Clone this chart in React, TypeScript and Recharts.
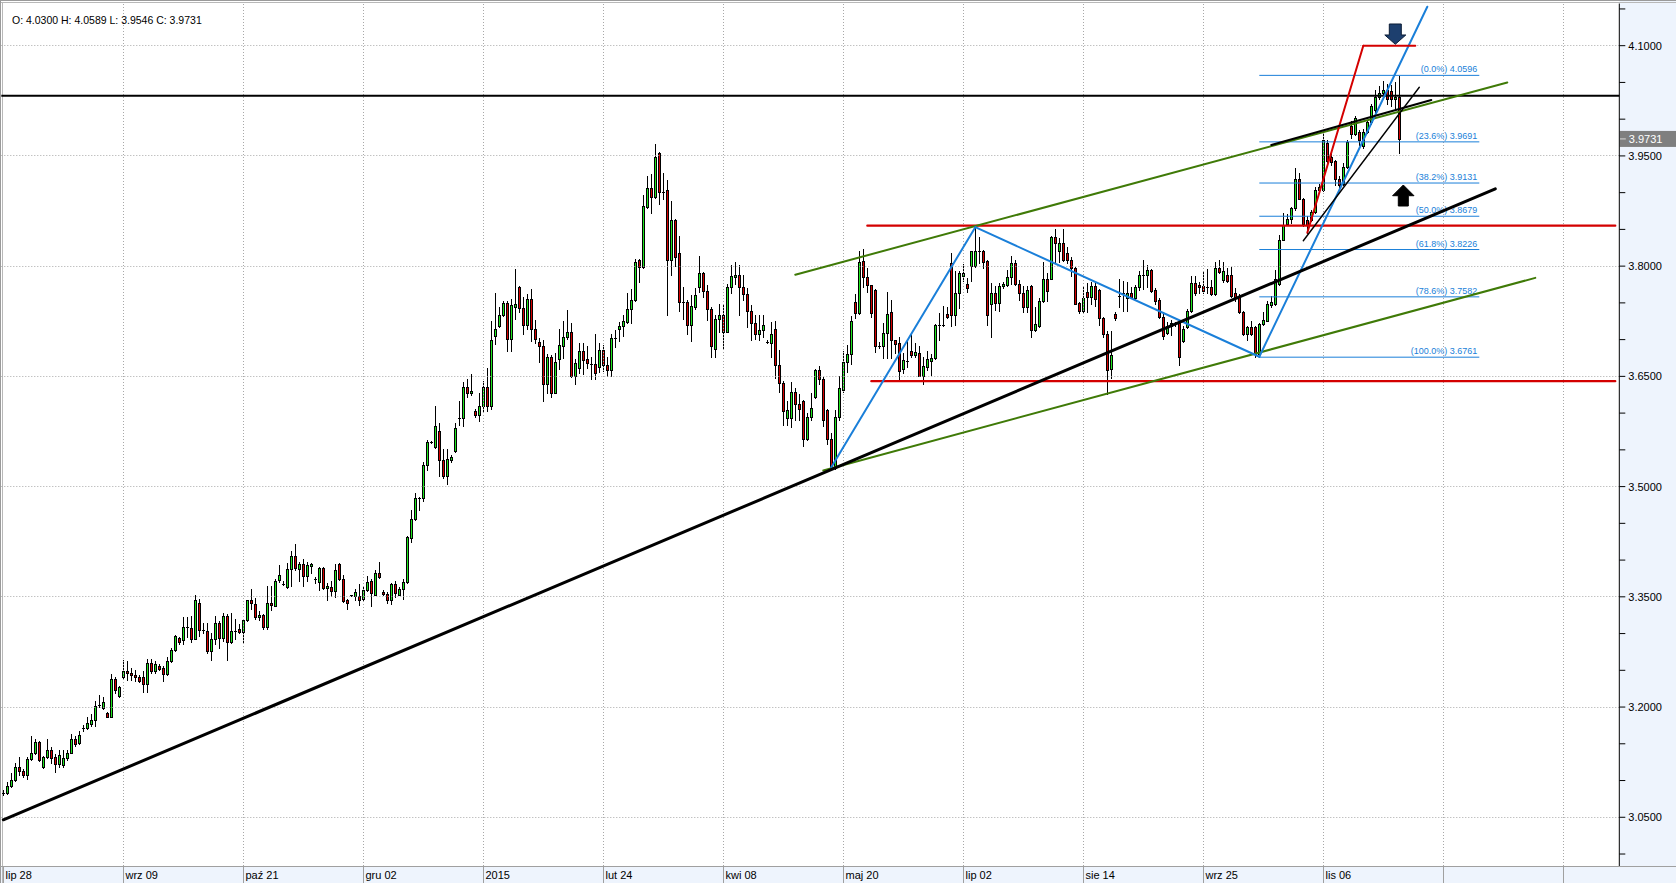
import React from 'react';
import { ComposedChart, Bar, XAxis, YAxis, ReferenceLine, ReferenceDot } from 'recharts';

// ---------- DATA (daily candles, slot 0 = lip 28) ----------
const openPrices = [
  3.083,3.083,3.092,3.101,3.119,3.113,3.108,3.129,3.137,3.152,
  3.118,3.132,3.142,3.132,3.123,3.121,3.130,3.138,3.156,3.151,
  3.172,3.171,3.177,3.182,3.201,3.199,3.192,3.187,3.238,3.215,
  3.241,3.249,3.246,3.244,3.241,3.241,3.231,3.260,3.249,3.256,
  3.253,3.245,3.262,3.277,3.294,3.291,3.309,3.308,3.293,3.342,
  3.305,3.304,3.276,3.293,3.314,3.294,3.324,3.289,3.303,3.306,
  3.302,3.319,3.345,3.340,3.322,3.325,3.309,3.342,3.338,3.373,
  3.368,3.364,3.388,3.406,3.388,3.395,3.379,3.392,3.374,3.370,
  3.389,3.362,3.364,3.358,3.394,3.374,3.345,3.352,3.351,3.351,
  3.347,3.359,3.371,3.353,3.382,3.357,3.354,3.345,3.367,3.353,
  3.361,3.370,3.430,3.456,3.485,3.485,3.530,3.561,3.554,3.575,
  3.536,3.514,3.536,3.549,3.593,3.593,3.635,3.627,3.603,3.597,
  3.610,3.635,3.610,3.705,3.719,3.733,3.750,3.701,3.745,3.772,
  3.743,3.720,3.755,3.714,3.697,3.692,3.639,3.676,3.628,3.674,
  3.692,3.704,3.711,3.651,3.661,3.684,3.673,3.667,3.667,3.663,
  3.686,3.666,3.659,3.702,3.714,3.719,3.724,3.742,3.754,3.809,
  3.799,3.881,3.906,3.894,3.954,3.901,3.903,3.809,3.863,3.818,
  3.751,3.751,3.720,3.745,3.772,3.790,3.766,3.742,3.687,3.728,
  3.734,3.711,3.771,3.785,3.788,3.772,3.762,3.739,3.722,3.707,
  3.713,3.697,3.695,3.714,3.665,3.641,3.594,3.594,3.629,3.612,
  3.617,3.565,3.595,3.622,3.658,3.647,3.604,3.565,3.525,3.595,
  3.632,3.670,3.680,3.751,3.736,3.807,3.785,3.774,3.767,3.691,
  3.691,3.709,3.738,3.699,3.695,3.660,3.671,3.685,3.679,3.682,
  3.651,3.663,3.671,3.675,3.720,3.720,3.735,3.804,3.733,3.763,
  3.787,3.776,3.800,3.800,3.821,3.821,3.807,3.748,3.764,3.750,
  3.773,3.775,3.785,3.804,3.776,3.764,3.744,3.773,3.713,3.718,
  3.753,3.783,3.783,3.839,3.821,3.832,3.818,3.809,3.797,3.750,
  3.739,3.765,3.758,3.773,3.767,3.729,3.707,3.660,3.735,3.760,
  3.763,3.757,3.764,3.757,3.771,3.788,3.788,3.795,3.767,3.754,
  3.731,3.709,3.718,3.723,3.723,3.698,3.717,3.739,3.777,3.775,
  3.773,3.771,3.771,3.762,3.798,3.781,3.788,3.788,3.763,3.760,
  3.738,3.707,3.717,3.717,3.681,3.721,3.726,3.747,3.748,3.776,
  3.836,3.857,3.864,3.879,3.918,3.892,3.863,3.863,3.874,3.904,
  3.904,3.968,3.949,3.943,3.918,3.912,3.935,3.991,3.980,3.982,
  3.963,3.983,3.996,4.012,4.030,4.036,4.040,4.039,4.028,4.0300,
];
const highPrices = [
  3.087,3.098,3.110,3.124,3.132,3.116,3.132,3.160,3.157,3.154,
  3.134,3.157,3.145,3.136,3.141,3.142,3.141,3.163,3.160,3.168,
  3.176,3.187,3.190,3.208,3.216,3.214,3.193,3.245,3.241,3.229,
  3.264,3.262,3.253,3.250,3.244,3.249,3.265,3.265,3.262,3.259,
  3.256,3.268,3.280,3.298,3.296,3.323,3.323,3.324,3.352,3.347,
  3.314,3.314,3.301,3.324,3.317,3.328,3.327,3.328,3.320,3.313,
  3.320,3.346,3.360,3.348,3.331,3.327,3.365,3.365,3.374,3.393,
  3.371,3.396,3.412,3.422,3.397,3.402,3.397,3.396,3.377,3.391,
  3.390,3.369,3.371,3.395,3.396,3.380,3.347,3.353,3.360,3.367,
  3.364,3.379,3.374,3.386,3.398,3.359,3.357,3.369,3.371,3.363,
  3.374,3.433,3.468,3.491,3.486,3.534,3.564,3.562,3.609,3.586,
  3.551,3.551,3.543,3.587,3.617,3.642,3.647,3.653,3.606,3.628,
  3.644,3.661,3.726,3.763,3.745,3.752,3.752,3.755,3.796,3.773,
  3.758,3.762,3.769,3.727,3.702,3.700,3.681,3.679,3.682,3.714,
  3.726,3.740,3.722,3.673,3.696,3.696,3.691,3.676,3.707,3.695,
  3.693,3.677,3.708,3.713,3.724,3.734,3.764,3.769,3.810,3.810,
  3.897,3.922,3.926,3.966,3.955,3.927,3.917,3.888,3.864,3.841,
  3.772,3.754,3.761,3.770,3.814,3.792,3.774,3.745,3.733,3.748,
  3.748,3.776,3.802,3.806,3.802,3.788,3.770,3.747,3.734,3.734,
  3.734,3.699,3.724,3.726,3.686,3.644,3.617,3.642,3.634,3.626,
  3.618,3.600,3.628,3.660,3.664,3.649,3.606,3.573,3.604,3.650,
  3.685,3.693,3.732,3.762,3.821,3.823,3.798,3.774,3.769,3.697,
  3.722,3.765,3.754,3.700,3.703,3.682,3.700,3.709,3.695,3.691,
  3.676,3.685,3.680,3.721,3.736,3.746,3.745,3.818,3.794,3.794,
  3.803,3.784,3.821,3.853,3.840,3.822,3.808,3.777,3.773,3.777,
  3.779,3.795,3.814,3.808,3.781,3.773,3.773,3.774,3.744,3.756,
  3.805,3.791,3.841,3.851,3.838,3.851,3.826,3.812,3.799,3.751,
  3.772,3.777,3.779,3.777,3.769,3.731,3.712,3.712,3.737,3.782,
  3.780,3.779,3.772,3.774,3.793,3.809,3.801,3.796,3.770,3.756,
  3.738,3.724,3.727,3.724,3.727,3.718,3.742,3.787,3.786,3.778,
  3.794,3.796,3.781,3.805,3.808,3.805,3.798,3.799,3.770,3.762,
  3.739,3.718,3.725,3.718,3.722,3.738,3.752,3.759,3.795,3.843,
  3.872,3.871,3.881,3.933,3.927,3.893,3.868,3.877,3.908,3.912,
  3.981,3.971,3.952,3.945,3.922,3.940,3.972,3.997,4.004,3.985,
  3.986,3.999,4.021,4.040,4.045,4.052,4.048,4.046,4.050,4.0589,
];
const lowPrices = [
  3.080,3.082,3.091,3.100,3.107,3.105,3.102,3.128,3.136,3.127,
  3.117,3.131,3.124,3.112,3.118,3.118,3.128,3.137,3.147,3.150,
  3.168,3.170,3.174,3.174,3.200,3.198,3.186,3.186,3.219,3.214,
  3.240,3.237,3.237,3.236,3.234,3.220,3.220,3.246,3.246,3.250,
  3.235,3.244,3.261,3.276,3.286,3.286,3.295,3.288,3.292,3.297,
  3.301,3.274,3.264,3.286,3.280,3.290,3.264,3.287,3.292,3.301,
  3.288,3.317,3.334,3.320,3.319,3.306,3.306,3.332,3.337,3.370,
  3.366,3.362,3.365,3.387,3.371,3.365,3.372,3.383,3.369,3.359,
  3.361,3.345,3.351,3.350,3.373,3.343,3.333,3.351,3.346,3.339,
  3.346,3.358,3.337,3.352,3.376,3.352,3.342,3.340,3.350,3.352,
  3.347,3.369,3.424,3.455,3.468,3.480,3.523,3.560,3.553,3.514,
  3.512,3.503,3.534,3.547,3.584,3.583,3.622,3.625,3.595,3.589,
  3.603,3.603,3.606,3.694,3.717,3.732,3.685,3.685,3.728,3.737,
  3.708,3.714,3.698,3.696,3.670,3.616,3.628,3.622,3.627,3.660,
  3.675,3.701,3.649,3.639,3.655,3.653,3.662,3.647,3.647,3.656,
  3.657,3.651,3.650,3.690,3.698,3.705,3.723,3.723,3.753,3.779,
  3.797,3.879,3.872,3.893,3.885,3.891,3.734,3.788,3.800,3.739,
  3.728,3.707,3.698,3.742,3.765,3.758,3.727,3.677,3.677,3.711,
  3.689,3.710,3.764,3.776,3.734,3.754,3.717,3.699,3.701,3.699,
  3.703,3.695,3.676,3.648,3.629,3.584,3.584,3.581,3.591,3.590,
  3.555,3.564,3.591,3.621,3.640,3.583,3.558,3.524,3.524,3.590,
  3.629,3.656,3.667,3.730,3.735,3.772,3.765,3.731,3.683,3.688,
  3.675,3.675,3.675,3.682,3.645,3.654,3.663,3.676,3.677,3.650,
  3.640,3.658,3.652,3.674,3.700,3.718,3.729,3.718,3.720,3.743,
  3.780,3.765,3.780,3.799,3.804,3.798,3.720,3.703,3.740,3.739,
  3.770,3.773,3.776,3.774,3.754,3.738,3.738,3.703,3.712,3.717,
  3.751,3.753,3.782,3.806,3.806,3.807,3.804,3.787,3.748,3.736,
  3.738,3.737,3.749,3.746,3.720,3.704,3.626,3.648,3.727,3.744,
  3.739,3.739,3.756,3.754,3.767,3.769,3.771,3.765,3.748,3.729,
  3.701,3.707,3.706,3.719,3.665,3.697,3.716,3.738,3.761,3.763,
  3.763,3.763,3.761,3.761,3.791,3.778,3.778,3.758,3.752,3.736,
  3.706,3.700,3.706,3.676,3.677,3.720,3.725,3.744,3.747,3.775,
  3.835,3.856,3.859,3.877,3.891,3.854,3.845,3.861,3.872,3.901,
  3.902,3.942,3.937,3.910,3.905,3.910,3.933,3.975,3.978,3.965,
  3.961,3.981,3.994,4.010,4.027,4.030,4.020,4.018,4.015,3.9546,
];
const closePrices = [
  3.083,3.093,3.101,3.119,3.113,3.108,3.129,3.137,3.152,3.128,
  3.132,3.142,3.131,3.123,3.135,3.130,3.138,3.156,3.150,3.162,
  3.172,3.178,3.183,3.201,3.203,3.207,3.187,3.238,3.223,3.227,
  3.249,3.246,3.243,3.241,3.236,3.231,3.260,3.249,3.258,3.252,
  3.245,3.263,3.278,3.297,3.289,3.309,3.308,3.292,3.346,3.305,
  3.303,3.276,3.293,3.314,3.294,3.324,3.289,3.303,3.302,3.302,
  3.319,3.345,3.342,3.323,3.325,3.309,3.342,3.339,3.372,3.380,
  3.368,3.388,3.406,3.389,3.395,3.378,3.393,3.395,3.374,3.389,
  3.362,3.365,3.358,3.387,3.374,3.344,3.342,3.352,3.357,3.346,
  3.359,3.370,3.355,3.383,3.377,3.354,3.345,3.367,3.355,3.361,
  3.370,3.432,3.456,3.485,3.485,3.530,3.561,3.561,3.583,3.536,
  3.514,3.537,3.540,3.580,3.593,3.635,3.627,3.630,3.597,3.610,
  3.635,3.610,3.699,3.714,3.733,3.750,3.701,3.747,3.749,3.743,
  3.720,3.755,3.714,3.701,3.691,3.639,3.676,3.628,3.670,3.693,
  3.704,3.711,3.651,3.668,3.684,3.672,3.668,3.667,3.655,3.686,
  3.665,3.659,3.702,3.702,3.719,3.726,3.742,3.754,3.806,3.799,
  3.882,3.906,3.894,3.949,3.901,3.901,3.809,3.863,3.812,3.751,
  3.751,3.720,3.746,3.761,3.790,3.766,3.741,3.692,3.728,3.734,
  3.711,3.771,3.787,3.788,3.771,3.762,3.739,3.722,3.707,3.713,
  3.720,3.697,3.707,3.665,3.641,3.603,3.604,3.629,3.612,3.605,
  3.565,3.595,3.607,3.658,3.647,3.590,3.565,3.525,3.595,3.634,
  3.670,3.680,3.726,3.736,3.806,3.785,3.774,3.736,3.691,3.691,
  3.709,3.735,3.699,3.694,3.657,3.672,3.671,3.679,3.683,3.651,
  3.664,3.673,3.675,3.720,3.720,3.720,3.731,3.733,3.763,3.790,
  3.790,3.770,3.820,3.821,3.821,3.806,3.733,3.763,3.750,3.773,
  3.776,3.785,3.804,3.776,3.764,3.744,3.768,3.713,3.721,3.753,
  3.782,3.766,3.839,3.832,3.832,3.808,3.808,3.797,3.749,3.739,
  3.757,3.758,3.773,3.755,3.729,3.707,3.659,3.679,3.729,3.760,
  3.763,3.764,3.758,3.771,3.788,3.788,3.795,3.766,3.753,3.731,
  3.705,3.718,3.723,3.722,3.677,3.714,3.739,3.777,3.763,3.771,
  3.766,3.771,3.762,3.798,3.792,3.794,3.780,3.759,3.758,3.738,
  3.707,3.717,3.707,3.681,3.721,3.727,3.748,3.751,3.782,3.836,
  3.856,3.864,3.879,3.918,3.892,3.858,3.856,3.874,3.904,3.908,
  3.971,3.943,3.942,3.918,3.910,3.935,3.969,3.980,4.002,3.971,
  3.983,3.996,4.018,4.030,4.036,4.040,4.028,4.027,4.030,3.9731,
];

const SLOT_COUNT = 404; // daily slots on the time axis (data + empty space to the right)
const dateTickSlots = [0, 30, 60, 90, 120, 150, 180, 210, 240, 270, 300, 330, 360, 390];
const dateLabels = ['lip 28', 'wrz 09', 'paź 21', 'gru 02', '2015', 'lut 24', 'kwi 08', 'maj 20', 'lip 02', 'sie 14', 'wrz 25', 'lis 06', '', ''];
const priceMajorTicks = [3.05, 3.2, 3.35, 3.5, 3.65, 3.8, 3.95, 4.1];
const priceAllTicks = [3.0, 3.05, 3.1, 3.15, 3.2, 3.25, 3.3, 3.35, 3.4, 3.45, 3.5, 3.55, 3.6, 3.65, 3.7, 3.75, 3.8, 3.85, 3.9, 3.95, 4.0, 4.05, 4.1, 4.15];
const priceDomain = [2.9837, 4.1574];

// drawn objects (slot, price)
const longBlackTrend = [{ x: 0, y: 3.0466 }, { x: 373, y: 3.9053 }];
const shortBlackTrend = [{ x: 317, y: 3.9649 }, { x: 357, y: 4.026 }];
const thinBlackTrend = [{ x: 325, y: 3.8346 }, { x: 354, y: 4.0434 }];
const upperGreenChannel = [{ x: 198, y: 3.7883 }, { x: 376, y: 4.05 }];
const lowerGreenChannel = [{ x: 205, y: 3.522 }, { x: 383, y: 3.784 }];
const redLevelStarts = [216, 217];
const redLevelPrices = [3.855, 3.6435];
const blackLevel = 4.032;
const blueZigzag = [{ x: 207, y: 3.5262 }, { x: 243, y: 3.853 }, { x: 314, y: 3.6767 }, { x: 356, y: 4.153 }];
const redZigzag = [{ x: 326, y: 3.8455 }, { x: 340, y: 4.1 }, { x: 353, y: 4.1 }];
const fibFromSlot = 314;
const fibToSlot = 369;
const fibPercents = ['0.0%', '23.6%', '38.2%', '50.0%', '61.8%', '78.6%', '100.0%'];
const fibValues = [4.0596, 3.9691, 3.9131, 3.8679, 3.8226, 3.7582, 3.6761];
const sellArrow = { x: 348, y: 4.1019 };
const buyArrow = { x: 350, y: 3.9104 };

// ---------- table for the chart ----------
const rows = Array.from({ length: SLOT_COUNT }, (_, i) =>
  i < closePrices.length
    ? { slot: i, o: openPrices[i], h: highPrices[i], l: lowPrices[i], c: closePrices[i], range: [lowPrices[i], highPrices[i]] }
    : { slot: i, range: null }
);
const lastIdx = closePrices.length - 1;

const FONT = '"Liberation Sans", Arial, sans-serif';
const GREEN = '#1ee61e';
const RED = '#d40000';
const BLUE = '#1a7fd9';
const OLIVE = '#3f7a07';
const PANEL = '#eef4fd';

const snap = (v: number) => Math.round(v - 0.5) + 0.5;

const Candle = (props: any) => {
  const { x, y, width, height, payload } = props;
  if (!payload || payload.o == null || x == null) return null;
  const { o, h, l, c } = payload;
  const top = Math.min(y, y + height);
  const bottom = Math.max(y, y + height);
  const span = h - l;
  const k = span > 0 ? (bottom - top) / span : 0;
  const yOf = (v: number) => top + (h - v) * k;
  const cx = snap(x + width / 2);
  const yO = yOf(o);
  const yC = yOf(c);
  const bTop = Math.round(Math.min(yO, yC));
  const bBot = Math.round(Math.max(yO, yC));
  const up = c >= o;
  return (
    <g>
      <line x1={cx} x2={cx} y1={Math.round(top)} y2={Math.round(bottom) + 1} stroke="#000" strokeWidth={1} />
      {bBot - bTop < 2 ? (
        <line x1={cx - 1.5} x2={cx + 1.5} y1={bTop + 0.5} y2={bTop + 0.5} stroke="#000" strokeWidth={1} />
      ) : (
        <rect x={cx - 1} y={bTop + 0.5} width={2} height={bBot - bTop} fill={up ? GREEN : RED} stroke="#000" strokeWidth={1} />
      )}
    </g>
  );
};

const GridShape = (props: any) => {
  const { x1, y1, x2, y2 } = props;
  const vertical = Math.abs(x1 - x2) < 0.01;
  return (
    <line
      x1={vertical ? snap(x1) : x1}
      x2={vertical ? snap(x2) : x2}
      y1={vertical ? y1 : snap(y1)}
      y2={vertical ? y2 : snap(y2)}
      stroke="#a8a8a8"
      strokeWidth={1}
      strokeDasharray="1 2"
    />
  );
};

const XTick = (props: any) => {
  const { x, y, payload } = props;
  const idx = dateTickSlots.indexOf(payload.value);
  const label = idx >= 0 ? dateLabels[idx] : '';
  const px = snap(x);
  return (
    <g>
      <line x1={px} x2={px} y1={y} y2={y + 17} stroke="#a0a0a0" strokeWidth={1} />
      <text x={px + 2} y={y + 13} fontSize={11} fill="#000" fontFamily={FONT}>{label}</text>
    </g>
  );
};

const YTick = (props: any) => {
  const { x, y, payload } = props;
  const isMajor = priceMajorTicks.some((t) => Math.abs(t - payload.value) < 1e-6);
  if (!isMajor) return null;
  return (
    <text x={x} y={y + 4} fontSize={11} fill="#000" fontFamily={FONT} textAnchor="start">
      {payload.value.toFixed(4)}
    </text>
  );
};

const FibLabel = (props: any) => {
  const vb = props.viewBox || {};
  return (
    <text x={vb.x + vb.width - 2} y={vb.y - 3} fontSize={9} fill={BLUE} fontFamily={FONT} textAnchor="end">
      {props.text}
    </text>
  );
};

const LastPriceLabel = (props: any) => {
  const vb = props.viewBox || {};
  const x0 = vb.x + vb.width + 0.5;
  return (
    <g>
      <rect x={x0} y={vb.y - 8} width={60} height={16} fill="#7f7f7f" />
      <line x1={x0} x2={x0 + 6} y1={vb.y} y2={vb.y} stroke="#d8d8d8" strokeWidth={1} />
      <text x={x0 + 9} y={vb.y + 4} fontSize={11} fill="#ffffff" fontFamily={FONT}>{props.text}</text>
    </g>
  );
};

const DownArrow = (props: any) => {
  const { cx, cy } = props;
  const pts = [
    [cx - 6, cy - 20.3], [cx + 6, cy - 20.3], [cx + 6, cy - 9.3], [cx + 10.5, cy - 9.3],
    [cx, cy], [cx - 10.5, cy - 9.3], [cx - 6, cy - 9.3],
  ].map((p) => p.join(',')).join(' ');
  return <polygon points={pts} fill="#1d3f6e" stroke="#0c1d36" strokeWidth={1} />;
};

const UpArrow = (props: any) => {
  const { cx, cy } = props;
  const pts = [
    [cx, cy], [cx + 10.7, cy + 10.7], [cx + 5, cy + 10.7], [cx + 5, cy + 21],
    [cx - 5, cy + 21], [cx - 5, cy + 10.7], [cx - 10.7, cy + 10.7],
  ].map((p) => p.join(',')).join(' ');
  return <polygon points={pts} fill="#000" stroke="#000" strokeWidth={1} />;
};

const segLine = (a: any, b: any, stroke: string, width: number, key: string) => (
  <ReferenceLine
    key={key}
    segment={[a, b]}
    stroke={stroke}
    strokeWidth={width}
    strokeLinecap="round"
    ifOverflow="visible"
  />
);

const polyLine = (pts: any[], stroke: string, width: number, key: string) =>
  pts.slice(1).map((p, i) => segLine(pts[i], p, stroke, width, `${key}-${i}`));

export default function App() {
  const header = `O: ${openPrices[lastIdx].toFixed(4)} H: ${highPrices[lastIdx].toFixed(4)} L: ${lowPrices[lastIdx].toFixed(4)} C: ${closePrices[lastIdx].toFixed(4)}`;
  return (
    <div style={{ position: 'absolute', left: 0, top: 0, width: 1676, height: 883, overflow: 'hidden', background: '#ffffff' }}>
      <svg width={1676} height={883} style={{ position: 'absolute', left: 0, top: 0 }}>
        <rect x={1619.5} y={0} width={57} height={883} fill={PANEL} />
        <rect x={0} y={866} width={1676} height={17} fill={PANEL} />
        <line x1={0} x2={1676} y1={0.5} y2={0.5} stroke="#9a9a9a" />
        <line x1={0} x2={1676} y1={2.5} y2={2.5} stroke="#b8b8b8" />
        <line x1={0.5} x2={0.5} y1={0} y2={883} stroke="#9a9a9a" />
        <line x1={2.5} x2={2.5} y1={2} y2={883} stroke="#b8b8b8" />
        <line x1={0} x2={1676} y1={866.5} y2={866.5} stroke="#a0a0a0" />
      </svg>
      <div style={{ position: 'absolute', left: 0, top: 0 }}>
        <ComposedChart
          width={1676}
          height={883}
          data={rows}
          margin={{ top: 3.5, right: 0, bottom: 0, left: 1.3 }}
          barCategoryGap={0}
        >
          <XAxis
            dataKey="slot"
            type="category"
            ticks={dateTickSlots}
            interval={0}
            height={17}
            padding={{ left: 0, right: 2 }}
            axisLine={false}
            tickLine={false}
            tickSize={0}
            tickMargin={0}
            tick={<XTick />}
          />
          <YAxis
            orientation="right"
            type="number"
            width={56.7}
            domain={priceDomain}
            allowDataOverflow
            ticks={priceAllTicks}
            interval={0}
            tickSize={6}
            tickMargin={3}
            axisLine={{ stroke: '#000', strokeWidth: 1 }}
            tickLine={{ stroke: '#000', strokeWidth: 1 }}
            tick={<YTick />}
          />
          {priceMajorTicks.map((v) => (
            <ReferenceLine key={`hg-${v}`} y={v} shape={<GridShape />} ifOverflow="visible" />
          ))}
          {dateTickSlots.slice(1).map((s) => (
            <ReferenceLine key={`vg-${s}`} x={s} shape={<GridShape />} ifOverflow="visible" />
          ))}
          <Bar dataKey="range" barSize={4} shape={<Candle />} isAnimationActive={false} />
          {fibValues.map((v, i) => (
            <ReferenceLine
              key={`fib-${i}`}
              segment={[{ x: fibFromSlot, y: v }, { x: fibToSlot, y: v }]}
              stroke={BLUE}
              strokeWidth={1}
              ifOverflow="visible"
              label={<FibLabel text={`(${fibPercents[i]}) ${v.toFixed(4)}`} />}
            />
          ))}
          <ReferenceLine y={blackLevel} stroke="#000" strokeWidth={2} ifOverflow="visible" />
          {redLevelPrices.map((v, i) =>
            segLine({ x: redLevelStarts[i], y: v }, { x: SLOT_COUNT - 1, y: v }, RED, 2.2, `red-${i}`)
          )}
          {segLine(upperGreenChannel[0], upperGreenChannel[1], OLIVE, 2, 'g-up')}
          {segLine(lowerGreenChannel[0], lowerGreenChannel[1], OLIVE, 2, 'g-low')}
          {polyLine(blueZigzag, BLUE, 2, 'blue')}
          {polyLine(redZigzag, RED, 2, 'redz')}
          {segLine(longBlackTrend[0], longBlackTrend[1], '#000', 3, 'bk-long')}
          {segLine(shortBlackTrend[0], shortBlackTrend[1], '#000', 2, 'bk-short')}
          {segLine(thinBlackTrend[0], thinBlackTrend[1], '#000', 1.4, 'bk-thin')}
          <ReferenceDot x={sellArrow.x} y={sellArrow.y} r={0} shape={<DownArrow />} ifOverflow="visible" />
          <ReferenceDot x={buyArrow.x} y={buyArrow.y} r={0} shape={<UpArrow />} ifOverflow="visible" />
          <ReferenceLine
            y={closePrices[lastIdx]}
            stroke="none"
            ifOverflow="visible"
            label={<LastPriceLabel text={closePrices[lastIdx].toFixed(4)} />}
          />
        </ComposedChart>
      </div>
      <div
        style={{
          position: 'absolute',
          left: 12,
          top: 13.5,
          fontFamily: FONT,
          fontSize: 10.5,
          color: '#000',
          whiteSpace: 'nowrap',
          lineHeight: 'normal',
        }}
      >
        {header}
      </div>
    </div>
  );
}
